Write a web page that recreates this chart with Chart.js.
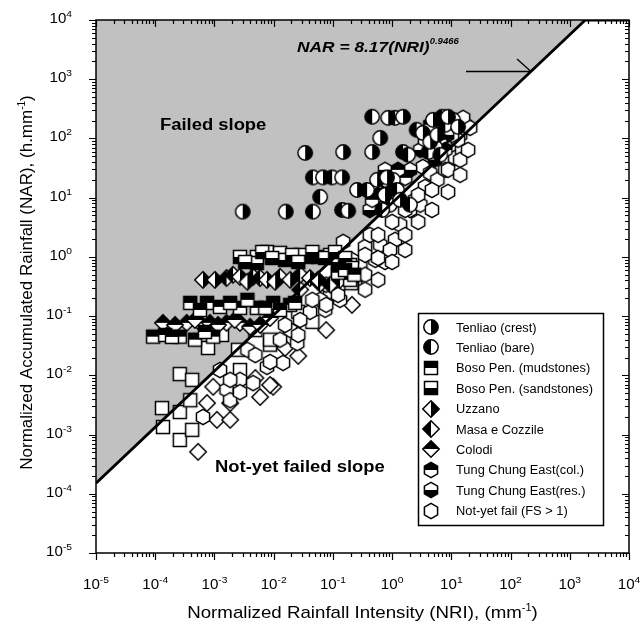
<!DOCTYPE html>
<html>
<head>
<meta charset="utf-8">
<title>Normalized rainfall threshold</title>
<script src="https://cdn.jsdelivr.net/npm/chart.js@4.4.1/dist/chart.umd.min.js"></script>
<style>
  html, body { margin: 0; padding: 0; background: #ffffff; }
  canvas { display: block; }
</style>
</head>
<body>
<canvas id="chart" width="640" height="626"></canvas>
<script>
// ---- Observations: [NRI (mm^-1), NAR (h.mm^-1)] ----
const tenliaoCrest = [
  [3.0e-3, 5.8], [1.6e-2, 5.8], [3.4e-2, 57], [0.149, 59], [0.46, 59], [6.8e-2, 22],
  [0.143, 22], [0.181, 6.0], [0.256, 13.5], [0.558, 20], [0.82, 22], [0.63, 102],
  [0.86, 223], [1.53, 232], [3.3, 124], [4.9, 206], [8.8, 232], [13.0, 157],
  [4.4, 88], [0.76, 11.1], [1.36, 9.2], [5.8, 115]
];
const tenliaoBare = [
  [4.6e-2, 5.8], [1.53, 59], [1.86, 53], [4.6e-2, 22], [9.7e-2, 22], [6.1e-2, 10.3],
  [0.143, 6.2], [0.378, 13.5], [1.04, 20], [1.21, 13.5], [0.46, 232], [1.12, 223],
  [2.6, 140], [7.0, 232], [10.7, 206], [5.3, 72], [4.1, 59], [0.92, 7.6],
  [0.68, 6.2], [2.0, 7.6], [7.9, 170], [6.5, 53]
];
const bosoMudstones = [
  [3.9e-4, 0.167], [7.5e-4, 0.167], [1.24e-3, 0.143], [2.7e-3, 0.138], [5.2e-3, 0.138],
  [9.8e-3, 0.167], [1.9e-2, 0.155], [2.6e-4, 0.045], [9.5e-4, 0.045], [9.2e-5, 0.045],
  [1.47e-4, 0.048], [0.205, 0.36], [0.195, 0.41], [0.122, 0.54], [5.7e-4, 0.127],
  [1.84e-3, 0.167], [3.6e-3, 0.188], [7.2e-3, 0.138], [1.28e-2, 0.127], [2.3e-2, 0.167],
  [1.92e-4, 0.0446], [4.7e-4, 0.040], [6.9e-4, 0.054], [0.16, 0.6], [0.23, 0.5]
];
const bosoSandstones = [
  [2.7e-3, 1.0], [5.2e-3, 1.0], [7.7e-3, 1.21], [1.28e-2, 1.17], [1.56e-2, 0.89],
  [3.7e-2, 1.0], [5.2e-3, 0.79], [2.8e-2, 1.08], [5.6e-2, 1.0], [9.0e-2, 1.08],
  [0.122, 0.82], [0.195, 0.73], [3.3e-3, 0.82], [6.4e-3, 1.21], [9.4e-3, 0.96],
  [2.05e-2, 1.08], [2.6e-2, 0.82], [4.5e-2, 1.21], [7.4e-2, 0.96], [0.109, 1.21],
  [0.161, 0.96], [0.21, 0.65]
];
const uzzano = [
  [6.4e-4, 0.41], [2.7e-3, 0.46], [7.7e-3, 0.41], [1.9e-2, 0.41], [4.1e-2, 0.44],
  [1.02e-3, 0.41], [3.6e-3, 0.38], [1.06e-2, 0.38], [5.6e-2, 0.41]
];
const masaCozzile = [
  [1.6e-3, 0.44], [4.5e-3, 0.46], [1.28e-2, 0.46], [2.8e-2, 0.28], [6.1e-2, 0.35],
  [2.06e-3, 0.50], [5.9e-3, 0.44], [2.8e-2, 0.50], [9.0e-2, 0.34], [0.132, 0.41]
];
const colodi = [
  [1.35e-4, 0.077], [3.4e-4, 0.077], [5.7e-4, 0.077], [8.4e-4, 0.077],
  [1.6e-3, 0.077], [2.7e-3, 0.077], [4.0e-3, 0.066], [2.16e-4, 0.071], [4.7e-4, 0.086],
  [1.15e-3, 0.071], [2.2e-3, 0.086], [5.9e-3, 0.071], [8.7e-3, 0.093]
];
const tungChungCol = [
  [0.70, 9.2], [0.58, 11.1], [0.86, 14.6], [0.46, 9.2], [1.0, 11.1], [0.76, 20],
  [1.66, 21.6], [1.26, 29.5], [6.5, 95], [7.9, 64], [4.4, 170], [3.6, 95]
];
const tungChungRes = [
  [0.63, 7.6], [0.92, 16.4], [0.52, 13.5], [1.12, 16.4], [0.76, 29.5], [1.36, 24],
  [2.0, 29.5], [0.42, 6.2], [8.5, 115], [5.3, 44], [3.0, 64]
];
const notYetFail = [
  [11.6, 47], [3.3, 33], [4.4, 26], [5.8, 20], [3.6, 15.2], [0.76, 0.82], [0.35, 1.48],
  [0.149, 1.79], [1.36, 3.5], [1.12, 1.94], [0.63, 1.6], [0.42, 2.35], [2.0, 6.2],
  [2.45, 9.2], [0.29, 0.73], [0.195, 0.56], [0.132, 0.34], [9.0e-2, 0.26], [6.1e-2, 0.188],
  [4.1e-2, 0.118], [2.8e-2, 0.086], [0.132, 0.188], [7.4e-2, 0.128], [14.1, 115],
  [17.1, 170], [15.2, 64], [7.9, 29.5], [3.0, 7.6], [1.66, 2.35], [0.237, 0.38],
  [1.9e-2, 0.058], [1.28e-2, 0.040], [2.5e-2, 0.035], [7.7e-3, 0.0139], [1.44e-2, 0.0162],
  [3.6e-3, 0.027], [2.7e-3, 8.4e-3], [1.24e-3, 0.0123], [6.4e-4, 1.98e-3], [1.6e-3, 5.7e-3],
  [4.5e-3, 7.4e-3], [0.52, 0.89], [0.92, 1.31], [0.35, 0.50],
  [1.84e-3, 8.4e-3], [1.84e-3, 3.8e-3], [2.7e-3, 5.2e-3], [4.9e-3, 0.022],
  [8.7e-3, 0.0168], [1.56e-2, 0.071], [2.6e-2, 0.048], [4.5e-2, 0.188],
  [7.7e-2, 0.34], [7.7e-2, 0.155], [0.122, 0.56], [0.122, 0.228], [0.21, 0.89],
  [0.21, 0.38], [0.35, 1.08], [0.35, 0.28], [0.58, 2.35], [0.58, 0.96], [0.58, 0.41],
  [1.0, 3.9], [1.0, 0.82], [1.66, 6.2], [1.66, 1.31], [2.75, 11.1], [2.75, 3.9],
  [4.7, 13.5], [4.7, 6.2], [8.8, 29.5], [8.8, 12.5], [14.1, 43.5], [14.1, 24.3],
  [19.2, 64], [15.8, 223], [20.8, 151], [13.0, 95], [10.3, 115]
];
const notYetFailSquares = [
  [2.6e-4, 0.0105], [4.2e-4, 8.4e-3], [1.3e-4, 2.8e-3], [1.35e-4, 1.34e-3], [2.6e-4, 2.4e-3],
  [2.6e-4, 8.1e-4], [4.2e-4, 1.2e-3], [3.9e-4, 3.8e-3], [7.8e-4, 0.029], [1.34e-3, 0.048],
  [2.5e-3, 0.027], [4.9e-3, 0.058], [8.7e-3, 0.033], [1.9e-2, 0.093],
  [2.7e-3, 0.0123], [8.7e-3, 0.040], [2.6e-2, 0.118], [4.5e-2, 0.080]
];
const notYetFailDiamonds = [
  [5.3e-4, 5.1e-4], [1.1e-3, 1.77e-3], [1.84e-3, 1.77e-3], [5.9e-3, 4.3e-3],
  [9.8e-3, 6.4e-3], [9.5e-4, 6.4e-3], [1.84e-3, 3.4e-3], [7.5e-4, 3.4e-3],
  [4.9e-3, 9.0e-3], [8.7e-3, 6.9e-3], [2.6e-2, 0.0213], [7.7e-2, 0.058],
  [0.21, 0.155], [1.56e-2, 0.029]
];

// ---- Threshold NAR = 8.17 (NRI)^0.9466 ----
const thresholdCoef = 8.17;
const thresholdExp = 0.9466;

// ---- Axes ----
const tickPowersX = [-5, -4, -3, -2, -1, 0, 1, 2, 3, 4];
const tickPowersY = [-5, -4, -3, -2, -1, 0, 1, 2, 3, 4];
const axisMin = 1e-5, axisMax = 1e4;
const xTitle = ['Normalized Rainfall Intensity (NRI), (mm', '-1', ')'];
const yTitle = ['Normalized Accumulated Rainfall (NAR), (h.mm', '-1', ')'];

const FAMILY = '"Liberation Sans", Arial, sans-serif';
const GRAY = '#c1c1c1';

// Half-filled marker glyphs
function makeMarker(shape, half) {
  const S = 20, c = S / 2;
  const cv = document.createElement('canvas');
  cv.width = S; cv.height = S;
  const g = cv.getContext('2d');
  const p = new Path2D();
  if (shape === 'circle') {
    p.arc(c, c, 7.2, 0, Math.PI * 2);
  } else if (shape === 'square') {
    p.rect(c - 6.5, c - 6.5, 13, 13);
  } else if (shape === 'diamond') {
    p.moveTo(c, c - 8.2); p.lineTo(c + 8.2, c); p.lineTo(c, c + 8.2); p.lineTo(c - 8.2, c); p.closePath();
  } else {
    for (let i = 0; i < 6; i++) {
      const a = -Math.PI / 2 + i * Math.PI / 3;
      const px = c + 7.6 * Math.cos(a), py = c + 7.6 * Math.sin(a);
      if (i === 0) p.moveTo(px, py); else p.lineTo(px, py);
    }
    p.closePath();
  }
  g.fillStyle = '#ffffff';
  g.fill(p);
  if (half) {
    g.save();
    g.clip(p);
    g.fillStyle = '#000000';
    if (half === 'left') g.fillRect(0, 0, c, S);
    if (half === 'right') g.fillRect(c, 0, S, S);
    if (half === 'top') g.fillRect(0, 0, S, c);
    if (half === 'bottom') g.fillRect(0, c, S, S);
    g.restore();
  }
  g.lineWidth = 1.5;
  g.strokeStyle = '#000000';
  g.stroke(p);
  return cv;
}

const toPoints = arr => arr.map(([x, y]) => ({ x, y }));

const series = [
  { label: 'Tenliao (crest)', data: tenliaoCrest, glyph: makeMarker('circle', 'right'), legend: true },
  { label: 'Tenliao (bare)', data: tenliaoBare, glyph: makeMarker('circle', 'left'), legend: true },
  { label: 'Boso Pen. (mudstones)', data: bosoMudstones, glyph: makeMarker('square', 'top'), legend: true },
  { label: 'Boso Pen. (sandstones)', data: bosoSandstones, glyph: makeMarker('square', 'bottom'), legend: true },
  { label: 'Uzzano', data: uzzano, glyph: makeMarker('diamond', 'right'), legend: true },
  { label: 'Masa e Cozzile', data: masaCozzile, glyph: makeMarker('diamond', 'left'), legend: true },
  { label: 'Colodi', data: colodi, glyph: makeMarker('diamond', 'top'), legend: true },
  { label: 'Tung Chung East(col.)', data: tungChungCol, glyph: makeMarker('hexagon', 'top'), legend: true },
  { label: 'Tung Chung East(res.)', data: tungChungRes, glyph: makeMarker('hexagon', 'bottom'), legend: true },
  { label: 'Not-yet fail (FS > 1)', data: notYetFail, glyph: makeMarker('hexagon', null), legend: true },
  { label: 'Not-yet fail (squares)', data: notYetFailSquares, glyph: makeMarker('square', null), legend: false },
  { label: 'Not-yet fail (diamonds)', data: notYetFailDiamonds, glyph: makeMarker('diamond', null), legend: false }
];

// Threshold line endpoints: from the left edge to where it meets the top edge
const nriAtTop = Math.pow(axisMax / thresholdCoef, 1 / thresholdExp);
const thresholdLine = [
  { x: axisMin, y: thresholdCoef * Math.pow(axisMin, thresholdExp) },
  { x: nriAtTop, y: axisMax },
  { x: axisMax, y: axisMax }
];

const datasets = [];
datasets.push({
  label: 'failed-region',
  data: thresholdLine,
  showLine: true,
  fill: 'end',
  backgroundColor: GRAY,
  borderWidth: 0,
  pointRadius: 0,
  order: 100
});
series.forEach((s, i) => {
  datasets.push({
    label: s.label,
    data: toPoints(s.data),
    pointStyle: s.glyph,
    pointRadius: 7,
    order: i < 10 ? 1 + i : 20 + i
  });
});
datasets.push({
  label: 'threshold',
  data: thresholdLine,
  showLine: true,
  fill: false,
  borderColor: '#000000',
  borderWidth: 2.8,
  pointRadius: 0,
  order: 0
});

// Text with horizontal stretch and superscripts: segs = [[text, size, raise], ...]
function drawRich(ctx, segs, x, y, align, sx, weight) {
  let total = 0;
  const ws = segs.map(([t, s]) => {
    ctx.font = `${weight} ${s}px ${FAMILY}`;
    const w = ctx.measureText(t).width * sx;
    total += w;
    return w;
  });
  let cx = align === 'center' ? x - total / 2 : align === 'right' ? x - total : x;
  ctx.textAlign = 'left';
  ctx.textBaseline = 'alphabetic';
  segs.forEach(([t, s, r], i) => {
    ctx.font = `${weight} ${s}px ${FAMILY}`;
    ctx.save();
    ctx.translate(cx, y - r);
    ctx.scale(sx, 1);
    ctx.fillText(t, 0, 0);
    ctx.restore();
    cx += ws[i];
  });
  return total;
}

const decorations = {
  id: 'decorations',
  afterDatasetsDraw(chart) {
    const ctx = chart.ctx;
    const a = chart.chartArea;
    const xs = chart.scales.x, ys = chart.scales.y;
    ctx.save();
    ctx.fillStyle = '#000';
    ctx.strokeStyle = '#000';

    // frame
    ctx.lineWidth = 1.5;
    ctx.strokeRect(a.left, a.top, a.right - a.left, a.bottom - a.top);

    // ticks
    ctx.lineWidth = 1.2;
    ctx.beginPath();
    tickPowersX.forEach(p => {
      for (let m = 1; m <= 9; m++) {
        const v = m * Math.pow(10, p);
        if (v > axisMax * 1.0001) break;
        const px = Math.round(xs.getPixelForValue(v)) + 0.5;
        const len = m === 1 ? 7 : 4;
        ctx.moveTo(px, a.bottom); ctx.lineTo(px, a.bottom + len);
        ctx.moveTo(px, a.top); ctx.lineTo(px, a.top + len);
      }
    });
    tickPowersY.forEach(p => {
      for (let m = 1; m <= 9; m++) {
        const v = m * Math.pow(10, p);
        if (v > axisMax * 1.0001) break;
        const py = Math.round(ys.getPixelForValue(v)) + 0.5;
        const len = m === 1 ? 7 : 4;
        ctx.moveTo(a.left - len, py); ctx.lineTo(a.left, py);
        ctx.moveTo(a.right, py); ctx.lineTo(a.right - len, py);
      }
    });
    ctx.stroke();

    // tick labels
    tickPowersX.forEach(p => {
      const px = xs.getPixelForValue(Math.pow(10, p));
      drawRich(ctx, [['10', 14, 0], [String(p), 9.5, 6]], px, 589, 'center', 1.08, 'normal');
    });
    tickPowersY.forEach(p => {
      const py = ys.getPixelForValue(Math.pow(10, p));
      drawRich(ctx, [['10', 14, 0], [String(p), 9.5, 6]], 72, py + 3, 'right', 1.08, 'normal');
    });

    // axis titles
    drawRich(ctx, [[xTitle[0], 17, 0], [xTitle[1], 10, 7], [xTitle[2], 17, 0]],
      (a.left + a.right) / 2, 618, 'center', 1.1, 'normal');
    ctx.save();
    ctx.translate(32, (a.top + a.bottom) / 2 - 4);
    ctx.rotate(-Math.PI / 2);
    drawRich(ctx, [[yTitle[0], 17, 0], [yTitle[1], 10, 7], [yTitle[2], 17, 0]],
      0, 0, 'center', 1.0, 'normal');
    ctx.restore();

    // region labels
    drawRich(ctx, [['Failed slope', 16, 0]], 160, 130, 'left', 1.15, 'bold');
    drawRich(ctx, [['Not-yet failed slope', 16, 0]], 215, 472, 'left', 1.15, 'bold');

    // threshold equation and pointer
    drawRich(ctx, [['NAR = 8.17(NRI)', 15.5, 0], ['0.9466', 8.5, 8]], 297, 52, 'left', 1.12, 'italic bold');
    ctx.lineWidth = 1.3;
    ctx.beginPath();
    ctx.moveTo(466, 71.5); ctx.lineTo(531, 71.5);
    ctx.moveTo(517, 59); ctx.lineTo(531, 71.5);
    ctx.stroke();

    // legend
    const lx = 418, ly = 313, lw = 185, lh = 212;
    ctx.fillStyle = '#fff';
    ctx.fillRect(lx, ly, lw, lh);
    ctx.lineWidth = 1.5;
    ctx.strokeStyle = '#000';
    ctx.strokeRect(lx + 0.5, ly + 0.5, lw, lh);
    ctx.fillStyle = '#000';
    series.filter(s => s.legend).forEach((s, i) => {
      const cy = 327 + i * 20.4;
      ctx.drawImage(s.glyph, 431 - s.glyph.width / 2, Math.round(cy - s.glyph.height / 2));
      drawRich(ctx, [[s.label, 12, 0]], 456, cy + 4.5, 'left', 1.07, 'normal');
    });
    ctx.restore();
  }
};

new Chart(document.getElementById('chart'), {
  type: 'scatter',
  data: { datasets },
  options: {
    responsive: false,
    animation: false,
    events: [],
    layout: { padding: { left: 96, right: 11, top: 20, bottom: 73 } },
    plugins: { legend: { display: false }, tooltip: { enabled: false } },
    scales: {
      x: { type: 'logarithmic', min: axisMin, max: axisMax, display: false },
      y: { type: 'logarithmic', min: axisMin, max: axisMax, display: false }
    }
  },
  plugins: [decorations]
});
</script>
</body>
</html>
